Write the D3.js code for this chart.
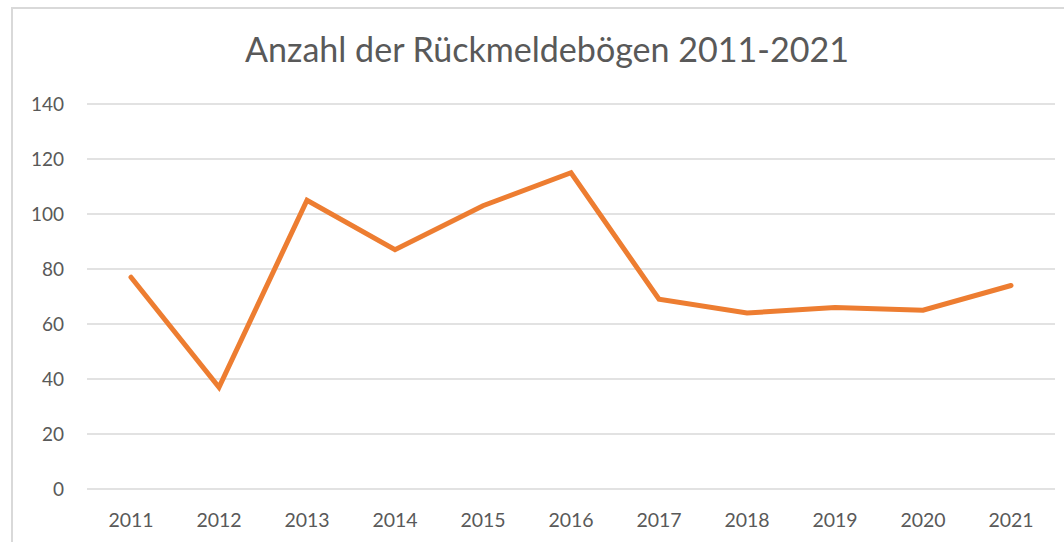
<!DOCTYPE html>
<html>
<head>
<meta charset="utf-8">
<script src="https://cdn.jsdelivr.net/npm/d3@7"></script>
<style>
    body { margin: 0; background: #ffffff; }
    svg { display: block; }
</style>
</head>
<body>
<svg id="chart"></svg>
<script>
let years = ["2011", "2012", "2013", "2014", "2015", "2016", "2017", "2018", "2019", "2020", "2021"];
let counts = [77, 37, 105, 87, 103, 115, 69, 64, 66, 65, 74];
let y_ticks = [0, 20, 40, 60, 80, 100, 120, 140];
let title_text = "Anzahl der Rückmeldebögen 2011-2021";

let width = 1064;
let height = 542;
let font = "'Gill Sans', 'Gill Sans MT', Lato, 'Noto Sans', sans-serif";

let svg = d3.select("#chart")
    .attr("width", width)
    .attr("height", height);

// frame of the chart area (only left and top edges are visible)
svg.append("line")
    .attr("x1", 12).attr("y1", 8).attr("x2", 12).attr("y2", height)
    .attr("stroke", "#d9d9d9").attr("stroke-width", 2);
svg.append("line")
    .attr("x1", 11).attr("y1", 8).attr("x2", width).attr("y2", 8)
    .attr("stroke", "#d9d9d9").attr("stroke-width", 2);

let x = d3.scaleBand()
    .domain(years)
    .range([87, 1055]);

let y = d3.scaleLinear()
    .domain([0, 140])
    .range([489, 104]);

// gridlines
svg.append("g")
    .selectAll("line")
    .data(y_ticks)
    .enter().append("line")
    .attr("x1", 87)
    .attr("x2", 1055)
    .attr("y1", function(d) { return y(d); })
    .attr("y2", function(d) { return y(d); })
    .attr("stroke", "#d9d9d9")
    .attr("stroke-width", 1.5);

// y tick labels
svg.append("g")
    .selectAll("text")
    .data(y_ticks)
    .enter().append("text")
    .attr("x", 64)
    .attr("y", function(d) { return y(d); })
    .attr("dy", "0.35em")
    .attr("text-anchor", "end")
    .attr("font-family", font)
    .attr("font-size", "19px")
    .attr("fill", "#595959")
    .text(function(d) { return d; });

// x tick labels
svg.append("g")
    .selectAll("text")
    .data(years)
    .enter().append("text")
    .attr("x", function(d) { return x(d) + x.bandwidth() / 2; })
    .attr("y", 527)
    .attr("text-anchor", "middle")
    .attr("font-family", font)
    .attr("font-size", "19.5px")
    .attr("fill", "#595959")
    .text(function(d) { return d; });

// the series line
let line = d3.line()
    .x(function(d, i) { return x(years[i]) + x.bandwidth() / 2; })
    .y(function(d) { return y(d); });

svg.append("path")
    .datum(counts)
    .attr("d", line)
    .attr("fill", "none")
    .attr("stroke", "#ed7d31")
    .attr("stroke-width", 5)
    .attr("stroke-linejoin", "miter")
    .attr("stroke-linecap", "round");

// title
svg.append("text")
    .attr("x", 547)
    .attr("y", 62)
    .attr("text-anchor", "middle")
    .attr("font-family", font)
    .attr("font-size", "34px")
    .attr("fill", "#595959")
    .attr("textLength", 604)
    .attr("lengthAdjust", "spacingAndGlyphs")
    .text(title_text);
</script>
</body>
</html>
